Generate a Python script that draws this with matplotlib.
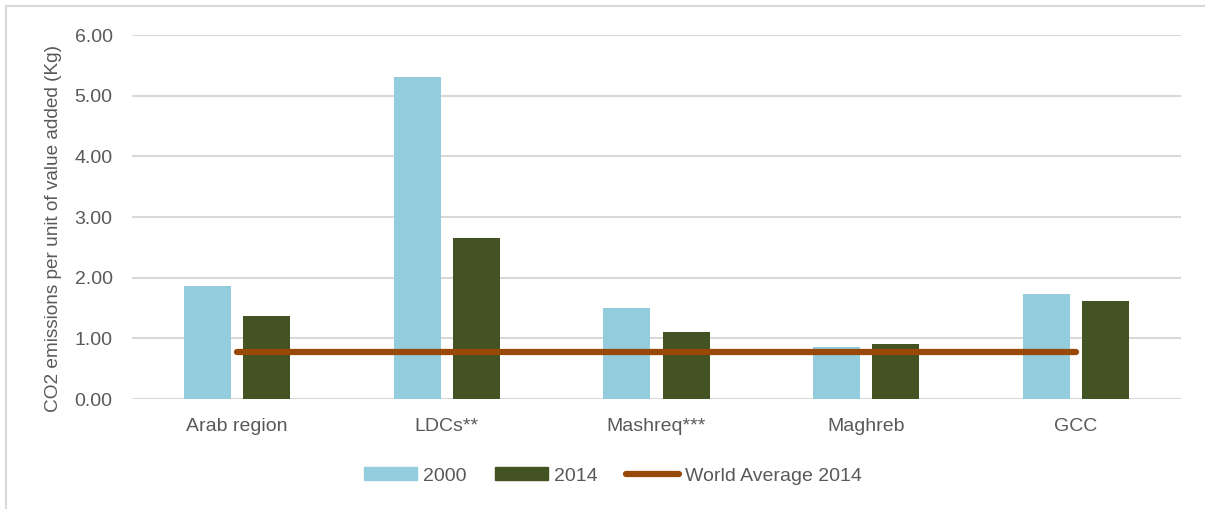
import numpy as np
import matplotlib
matplotlib.use("Agg")
import matplotlib.pyplot as plt
from matplotlib.patches import Patch
from matplotlib.lines import Line2D

plt.rcParams['font.family'] = ['Liberation Sans', 'DejaVu Sans']

# data
regions = ["Arab region", "LDCs**", "Mashreq***", "Maghreb", "GCC"]
vals_2000 = [1.86, 5.30, 1.50, 0.85, 1.73]
vals_2014 = [1.36, 2.65, 1.11, 0.91, 1.62]
world_avg_2014 = [0.77, 0.77, 0.77, 0.77, 0.77]
yticks = [0, 1, 2, 3, 4, 5, 6]

c2000 = "#93CDDD"
c2014 = "#435323"
cworld = "#984807"
txt = "#595959"
grid = "#D9D9D9"

fig = plt.figure(figsize=(12.05, 5.09), dpi=100)
ax = fig.add_axes([132/1205, 1-399/509, (1181-132)/1205, (399-35)/509])

x = np.arange(len(regions))
w = 0.224
off = 0.141
ax.bar(x - off, vals_2000, w, color=c2000, zorder=2)
ax.bar(x + off, vals_2014, w, color=c2014, zorder=2)
ax.plot(x, world_avg_2014, color=cworld, lw=4.5, solid_capstyle='round', zorder=3)

ax.set_xlim(-0.5, len(regions)-0.5)
ax.set_ylim(0, 6)
ax.set_yticks(yticks)
ax.set_yticklabels([f"{v:.2f}" for v in yticks])
ax.set_xticks(x)
ax.set_xticklabels(regions)
ax.tick_params(axis='both', length=0, labelsize=14, colors=txt)
ax.tick_params(axis='y', pad=14)
ax.tick_params(axis='x', pad=14)
ax.yaxis.grid(True, color=grid, lw=1.5, zorder=0)
ax.set_axisbelow(True)
for s in ax.spines.values():
    s.set_visible(False)

fig.text(53/1205, 1-228/509, "CO2 emissions per unit of value added (Kg)",
         rotation=90, ha='center', va='center', fontsize=13.7, color=txt)

handles = [Patch(color=c2000), Patch(color=c2014),
           Line2D([], [], color=cworld, lw=4.5, solid_capstyle='round')]
leg = fig.legend(handles, ["2000", "2014", "World Average 2014"], ncol=3,
                 loc='center', bbox_to_anchor=(613/1205, 1-476/509), frameon=False,
                 fontsize=14, handlelength=2.7, handleheight=0.6,
                 handletextpad=0.3, columnspacing=1.5)
for t in leg.get_texts():
    t.set_color(txt)

# outer frame (cut off at the right and bottom in the reference)
fig.add_artist(Line2D([6/1205, 6/1205], [0, 1-6/509], color=grid, lw=1.5))
fig.add_artist(Line2D([6/1205, 1], [1-6/509, 1-6/509], color=grid, lw=1.5))

fig.savefig("out.png", dpi=100)
